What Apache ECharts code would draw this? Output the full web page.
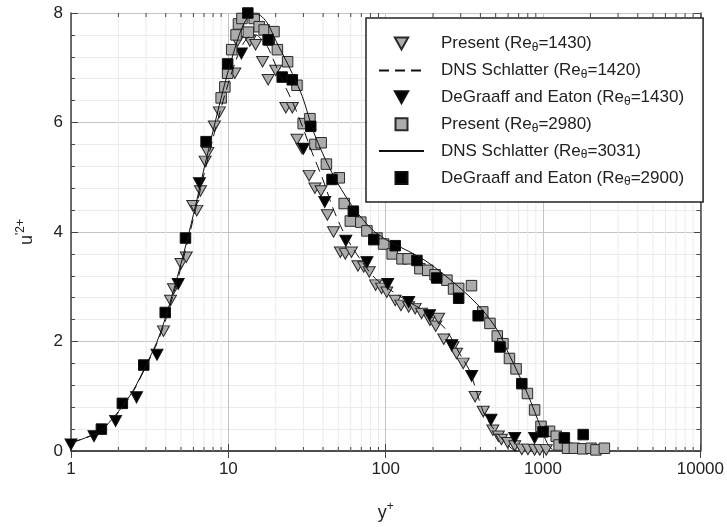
<!DOCTYPE html>
<html>
<head>
<meta charset="utf-8">
<script src="https://cdn.jsdelivr.net/npm/echarts@6/dist/echarts.min.js"></script>
<style>html,body{margin:0;padding:0;background:#fff;}#c{width:727px;height:527px;}</style>
</head>
<body>
<div id="c"></div>
<script>
// ---- data ----
const seriesNames = [
  'Present (Reθ=1430)',
  'DNS Schlatter (Reθ=1420)',
  'DeGraaff and Eaton (Reθ=1430)',
  'Present (Reθ=2980)',
  'DNS Schlatter (Reθ=3031)',
  'DeGraaff and Eaton (Reθ=2900)'
];
const xTickLabels = ['1', '10', '100', '1000', '10000'];
const yTickLabels = ['0', '2', '4', '6', '8'];
const xMinorTicks = [2,3,4,5,6,7,8,9,20,30,40,50,60,70,80,90,200,300,400,500,600,700,800,900,2000,3000,4000,5000,6000,7000,8000,9000];

const present1430 = [
  [3.87,2.19],[4.29,2.75],[4.48,2.96],[5.0,3.42],[5.4,3.54],[5.94,4.48],[6.3,4.39],[6.65,4.75],
  [7.12,5.29],[7.4,5.45],[8.15,5.93],[8.77,6.19],[11.0,6.9],[11.4,7.48],[13.7,7.49],[14.9,7.42],
  [16.5,7.11],[17.9,6.78],[20.0,6.95],[23.2,6.27],[25.5,6.27],[27.3,5.69],[29.4,5.52],[32.6,5.03],
  [35.5,4.8],[38.8,4.75],[42.6,4.31],[46.6,4.0],[51.5,3.63],[55.4,3.6],[60.6,3.63],[66.6,3.38],
  [72.5,3.36],[78.6,3.27],[86.3,3.03],[94.1,2.97],[101.6,2.9],[115,2.75],[125,2.66],[140,2.63],
  [154,2.6],[169,2.51],[191,2.39],[208,2.28],[217,2.42],[234,2.04],[268,1.9],[282,1.78],[311,1.6],
  [370,0.99],[417,0.72],[480,0.38],[520,0.27],[544,0.21],[596,0.15],[661,0.09],[733,0.03],
  [802,0.03],[884,0.02],[953,0.02],[1048,0.02]
];
const dns1420 = [
  [1,0.15],[1.5,0.35],[2,0.7],[2.5,1.1],[3,1.55],[3.5,1.95],[4,2.4],[5,3.35],[6,4.25],[7,5.05],
  [8,5.72],[9,6.27],[10,6.72],[11,7.08],[12,7.36],[13,7.52],[14,7.6],[15,7.6],[16,7.54],[17.7,7.39],
  [21,6.9],[26.8,6.24],[34.1,5.45],[40,4.95],[46,4.45],[55,3.95],[67.5,3.54],[86,3.15],[121,2.84],
  [178,2.54],[238,2.24],[303,1.72],[344,1.45],[369,1.18],[417,0.72],[470,0.46],[520,0.3],[580,0.15],
  [630,0.05],[680,0.0]
];
const degraaff1430 = [
  [1.0,0.12],[1.40,0.27],[1.92,0.55],[2.61,0.98],[3.52,1.76],[4.8,3.05],[6.55,4.89],[12.1,7.26],
  [30.0,5.52],[41.0,4.55],[55.8,3.84],[76,3.45],[103,3.05],[140,2.72],[190,2.48],[263,1.93],
  [352,1.37],[467,0.57],[661,0.24],[884,0.24]
];
const present2980 = [
  [9.0,6.45],[9.5,6.65],[9.9,6.9],[10.5,7.33],[11.2,7.6],[11.6,7.8],[12.2,7.9],[13.4,7.65],
  [14.6,7.9],[15.7,7.75],[16.9,7.69],[18.2,7.51],[19.5,7.66],[20.5,7.33],[23.8,7.11],[27.3,6.68],
  [29.9,5.98],[33.0,6.07],[35.5,5.6],[38.9,5.63],[42.0,5.24],[50.7,4.99],[54.5,4.52],[59.6,4.2],
  [69.5,4.18],[76,4.02],[88,3.89],[97,3.78],[110,3.6],[127,3.51],[139,3.51],[165,3.33],[185,3.3],
  [206,3.22],[245,3.12],[270,2.96],[291,2.97],[351,3.02],[414,2.54],[460,2.33],[512,2.1],[556,1.96],
  [612,1.69],[674,1.5],[796,1.05],[884,0.75],[971,0.45],[1100,0.36],[1214,0.27],[1265,0.11],
  [1432,0.05],[1583,0.05],[1789,0.04],[2019,0.05],[2171,0.02],[2454,0.05]
];
const dns3031 = [
  [1,0.15],[1.5,0.35],[2,0.72],[2.5,1.12],[3,1.57],[3.5,1.98],[4,2.45],[5,3.42],[6,4.32],[7,5.15],
  [8,5.85],[9,6.45],[10,6.95],[11,7.35],[12,7.68],[13,7.88],[14,7.97],[15,7.98],[16.4,7.93],[18,7.78],
  [20,7.5],[24.3,7.02],[29.5,6.48],[35,5.81],[45.6,5.08],[61,4.48],[81.6,4.05],[99.4,3.87],[110,3.8],
  [178,3.48],[291,3.0],[405,2.6],[520,2.18],[600,1.8],[674,1.5],[796,1.05],[884,0.72],[971,0.42],
  [1060,0.15],[1150,0.02]
];
const degraaff2900 = [
  [1.56,0.40],[2.12,0.87],[2.90,1.57],[3.97,2.53],[5.34,3.89],[7.22,5.65],[9.9,7.07],[13.3,8.0],
  [17.9,7.51],[22.0,6.83],[25.5,6.78],[33.4,5.93],[45.6,4.96],[62.3,4.38],[84,3.86],[115,3.75],
  [158,3.48],[211,3.16],[291,2.79],[387,2.47],[533,1.9],[733,1.23],[1000,0.35],[1366,0.24],[1800,0.3]
];

// ---- chart ----
const FONT = 'Liberation Sans, Arial, sans-serif';
const triDown = 'path://M0,0L10,0L5,9Z';
const square = 'path://M0,0L10,0L10,10L0,10Z';
const grayFill = '#acacac';
const edge = '#2a2a2a';

const chart = echarts.init(document.getElementById('c'), null, {renderer: 'canvas'});

const axisLineStyle = {color: '#444', width: 1.5};

const legendData = seriesNames.map(function (n, i) {
  if (i === 1 || i === 4) {
    return {name: n, itemStyle: {opacity: 0, borderWidth: 0}};
  }
  return {name: n};
});

const option = {
  animation: false,
  backgroundColor: '#fff',
  grid: {left: 71, right: 24, top: 13, bottom: 74, containLabel: false},
  xAxis: [{
    type: 'log', logBase: 10, min: 1, max: 10000,
    position: 'bottom',
    axisLine: {show: true, lineStyle: axisLineStyle},
    axisTick: {show: true, inside: true, length: 7, lineStyle: {color: '#444', width: 1}},
    axisLabel: {
      show: true, margin: 10, fontSize: 17, fontFamily: FONT, color: '#222',
      formatter: function (v) { const i = Math.round(Math.log10(v)); return xTickLabels[i] !== undefined ? xTickLabels[i] : ''; }
    },
    splitLine: {show: true, lineStyle: {color: '#c4c4c4', width: 1}},
    name: '{b|y}{sup|+}', nameLocation: 'middle', nameGap: 50,
    nameTextStyle: {
      fontFamily: FONT, color: '#222',
      rich: {
        b: {fontSize: 18, fontFamily: FONT, color: '#222', lineHeight: 24},
        sup: {fontSize: 12, fontFamily: FONT, color: '#222', lineHeight: 12, verticalAlign: 'top'}
      }
    }
  }, {
    type: 'log', logBase: 10, min: 1, max: 10000,
    position: 'top',
    axisLine: {show: true, lineStyle: axisLineStyle},
    axisTick: {show: true, inside: true, length: 7, lineStyle: {color: '#444', width: 1}},
    axisLabel: {show: false},
    splitLine: {show: false}
  }],
  yAxis: [{
    type: 'value', min: 0, max: 8, interval: 2,
    position: 'left',
    axisLine: {show: true, lineStyle: axisLineStyle},
    axisTick: {show: true, inside: true, length: 7, lineStyle: {color: '#444', width: 1}},
    minorTick: {show: true, splitNumber: 5, length: 4, lineStyle: {color: '#444', width: 1}},
    axisLabel: {
      margin: 8, fontSize: 17, fontFamily: FONT, color: '#222',
      formatter: function (v) { const i = Math.round(v / 2); return yTickLabels[i] !== undefined ? yTickLabels[i] : ''; }
    },
    splitLine: {show: true, lineStyle: {color: '#c4c4c4', width: 1}},
    minorSplitLine: {show: true, lineStyle: {color: '#ebebeb', width: 1}},
    name: "{b|u}{sup|'2+}", nameLocation: 'middle', nameGap: 32, nameRotate: 90,
    nameTextStyle: {
      fontFamily: FONT, color: '#222',
      rich: {
        b: {fontSize: 18, fontFamily: FONT, color: '#222', lineHeight: 24},
        sup: {fontSize: 12, fontFamily: FONT, color: '#222', lineHeight: 12, verticalAlign: 'top'}
      }
    }
  }, {
    type: 'value', min: 0, max: 8, interval: 2,
    position: 'right',
    axisLine: {show: true, lineStyle: axisLineStyle},
    axisTick: {show: true, inside: true, length: 7, lineStyle: {color: '#444', width: 1}},
    minorTick: {show: true, splitNumber: 5, length: 4, lineStyle: {color: '#444', width: 1}},
    axisLabel: {show: false},
    splitLine: {show: false}
  }],
  legend: {
    orient: 'vertical',
    left: 366, top: 18,
    padding: [17, 19, 14, 12],
    itemWidth: 45, itemHeight: 12, itemGap: 8.4,
    backgroundColor: '#fff',
    borderColor: '#222', borderWidth: 1.5, borderRadius: 0,
    data: legendData,
    selectedMode: false,
    formatter: function (name) {
      const parts = name.split('θ');
      return '{a|' + parts[0] + '}{sub|θ}{a|' + parts[1] + '}';
    },
    textStyle: {
      fontFamily: FONT, fontSize: 17, color: '#222', padding: [0, 0, 0, 12],
      rich: {
        a: {fontFamily: FONT, fontSize: 17, color: '#222', lineHeight: 20},
        sub: {fontFamily: FONT, fontSize: 12, color: '#222', lineHeight: 10, verticalAlign: 'bottom'}
      }
    }
  },
  series: [
    {
      name: 'minor-grid', type: 'custom', xAxisIndex: 0, yAxisIndex: 0, silent: true, z: 1,
      data: xMinorTicks.map(v => [v, 0]),
      renderItem: function (params, api) {
        const x = api.value(0);
        const b = api.coord([x, 0]);
        const t = api.coord([x, 8]);
        return {
          type: 'group',
          children: [
            {type: 'line', shape: {x1: b[0], y1: b[1], x2: t[0], y2: t[1]}, style: {stroke: '#ebebeb', lineWidth: 1}},
            {type: 'line', shape: {x1: b[0], y1: b[1], x2: b[0], y2: b[1] - 4}, style: {stroke: '#444', lineWidth: 1}},
            {type: 'line', shape: {x1: t[0], y1: t[1], x2: t[0], y2: t[1] + 4}, style: {stroke: '#444', lineWidth: 1}}
          ]
        };
      }
    },
    {
      name: seriesNames[0], type: 'scatter', data: present1430, symbol: triDown, symbolSize: [12, 10.5], z: 3,
      itemStyle: {color: grayFill, borderColor: edge, borderWidth: 1, opacity: 1}
    },
    {
      name: seriesNames[1], type: 'line', data: dns1420, symbol: 'none', smooth: 0.3, z: 5,
      lineStyle: {color: '#111', width: 1, type: [10, 6]}, itemStyle: {color: '#111'}
    },
    {
      name: seriesNames[2], type: 'scatter', data: degraaff1430, symbol: triDown, symbolSize: [12, 11], z: 3,
      itemStyle: {color: '#000', borderColor: '#111', borderWidth: 1, opacity: 1}
    },
    {
      name: seriesNames[3], type: 'scatter', data: present2980, symbol: square, symbolSize: 10.5, z: 3,
      itemStyle: {color: grayFill, borderColor: edge, borderWidth: 1, opacity: 1}
    },
    {
      name: seriesNames[4], type: 'line', data: dns3031, symbol: 'none', smooth: 0.3, z: 5,
      lineStyle: {color: '#111', width: 1, type: 'solid'}, itemStyle: {color: '#111'}
    },
    {
      name: seriesNames[5], type: 'scatter', data: degraaff2900, symbol: square, symbolSize: 10.5, z: 3,
      itemStyle: {color: '#000', borderColor: '#111', borderWidth: 1, opacity: 1}
    }
  ]
};
chart.setOption(option);
</script>
</body>
</html>
